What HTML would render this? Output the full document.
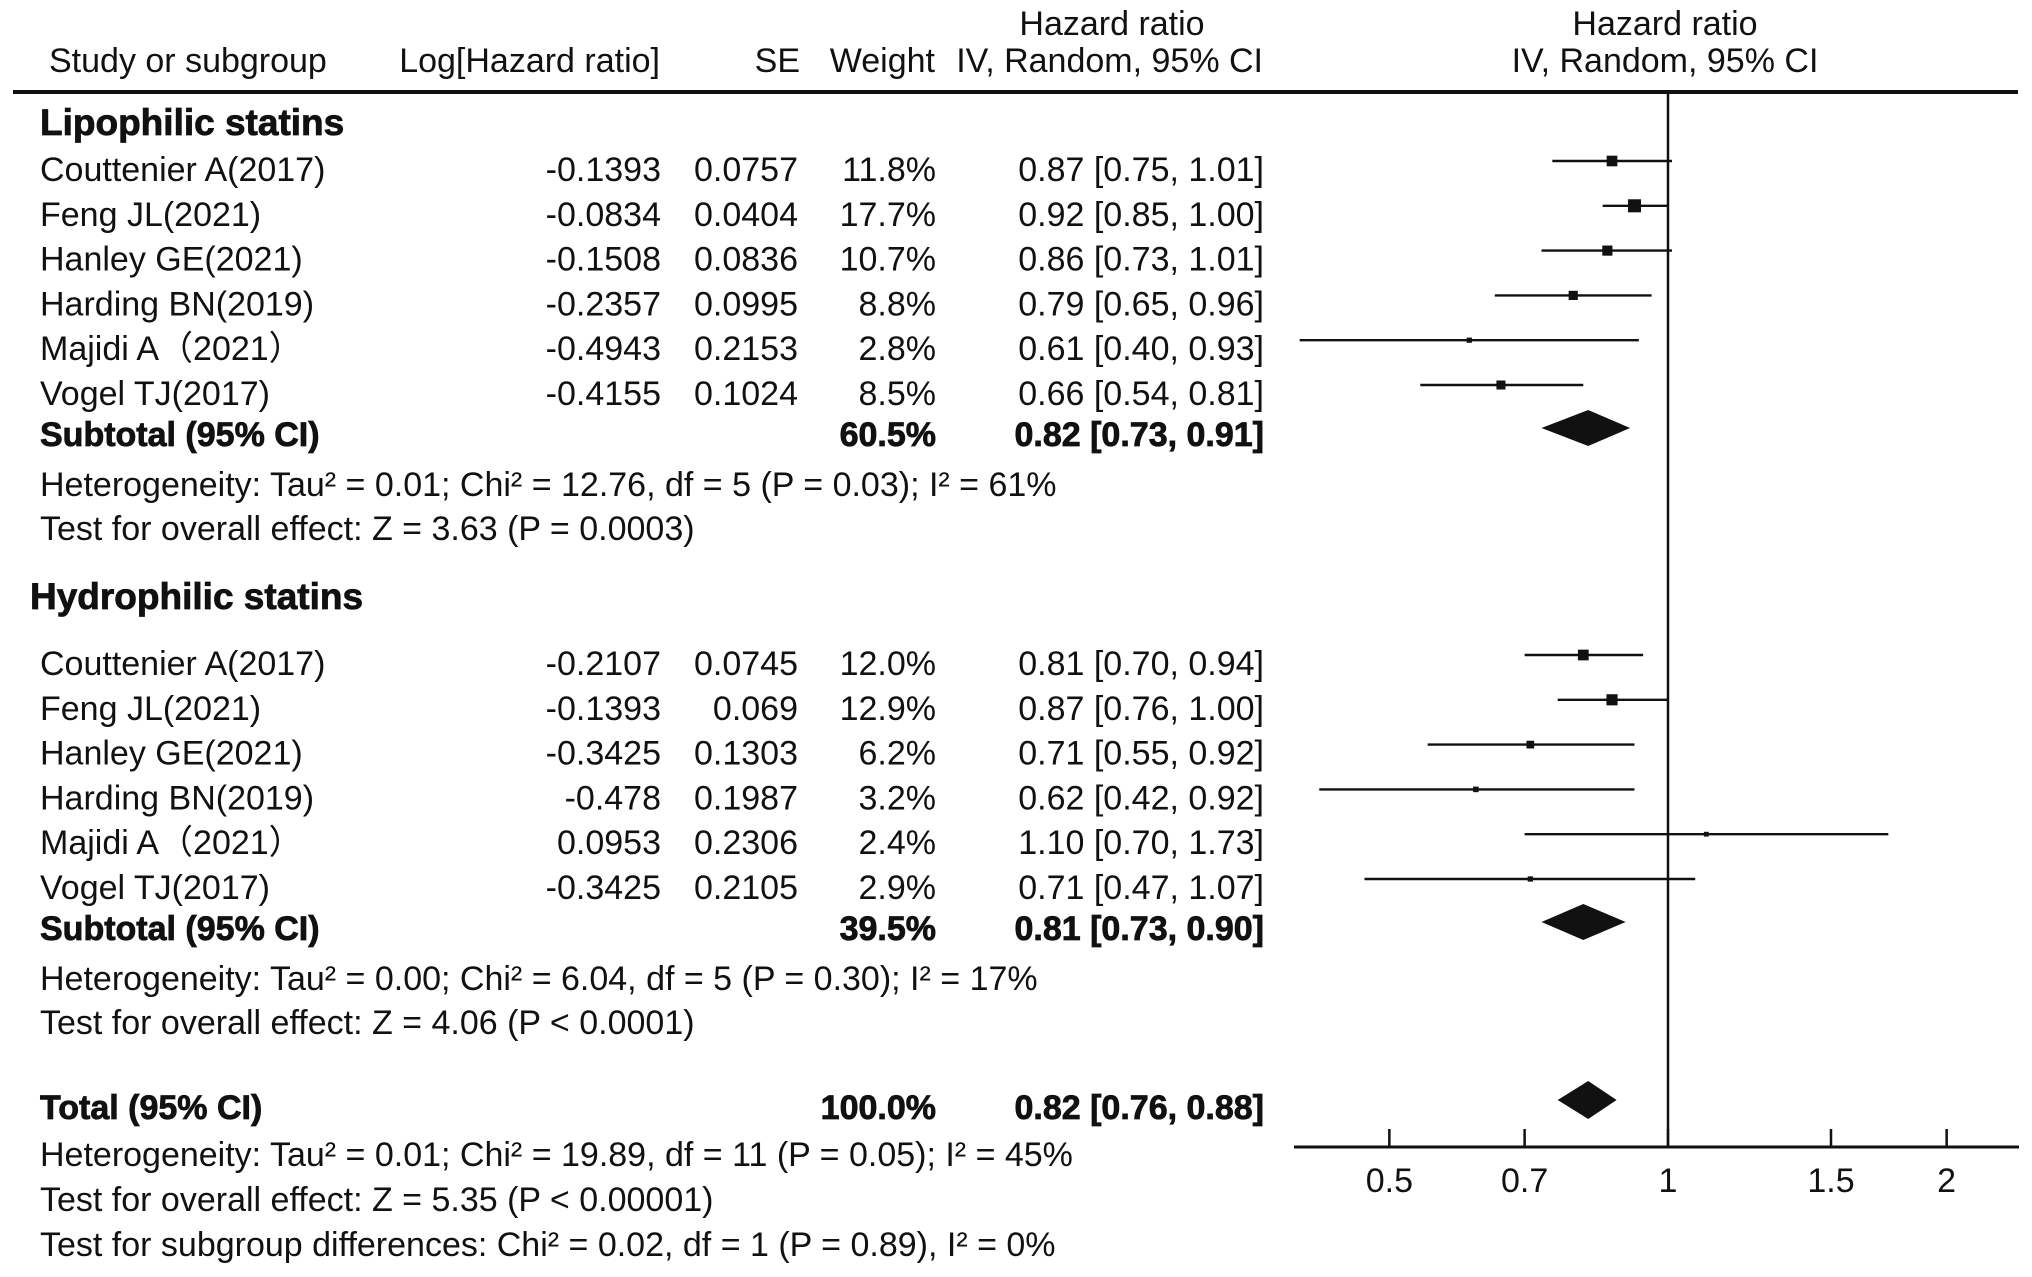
<!DOCTYPE html>
<html><head><meta charset="utf-8"><style>
body{margin:0;background:#fff}
svg{display:block;font-family:"Liberation Sans",Arial,sans-serif}
</style></head><body>
<svg id="plot" width="2032" height="1277" viewBox="0 0 2032 1277" xmlns="http://www.w3.org/2000/svg"></svg>
<script>
const studies=["Couttenier A(2017)","Feng JL(2021)","Hanley GE(2021)","Harding BN(2019)","Majidi A\uFF082021\uFF09","Vogel TJ(2017)"];
const lipoLog=["-0.1393","-0.0834","-0.1508","-0.2357","-0.4943","-0.4155"];
const lipoSE=["0.0757","0.0404","0.0836","0.0995","0.2153","0.1024"];
const lipoW=[11.8,17.7,10.7,8.8,2.8,8.5];
const lipoHR=[0.87,0.92,0.86,0.79,0.61,0.66];
const lipoLo=[0.75,0.85,0.73,0.65,0.40,0.54];
const lipoHi=[1.01,1.00,1.01,0.96,0.93,0.81];
const hydroLog=["-0.2107","-0.1393","-0.3425","-0.478","0.0953","-0.3425"];
const hydroSE=["0.0745","0.069","0.1303","0.1987","0.2306","0.2105"];
const hydroW=[12.0,12.9,6.2,3.2,2.4,2.9];
const hydroHR=[0.81,0.87,0.71,0.62,1.10,0.71];
const hydroLo=[0.70,0.76,0.55,0.42,0.70,0.47];
const hydroHi=[0.94,1.00,0.92,0.92,1.73,1.07];
const subtotals=[[0.82,0.73,0.91,"60.5%"],[0.81,0.73,0.90,"39.5%"]];
const total=[0.82,0.76,0.88,"100.0%"];
const ticks=[0.5,0.7,1,1.5,2];

const NS="http://www.w3.org/2000/svg";
const svg=document.getElementById('plot');
const X=v=>1668+402*Math.log(v);
const XMIN=1294,XMAX=2019,AXY=1147;
function el(tag,attrs,name,txt){const e=document.createElementNS(NS,tag);for(const k in attrs)e.setAttribute(k,attrs[k]);


if(txt!==undefined)e.textContent=txt;svg.appendChild(e);return e;}
function txt(x,y,s,name,anchor,bold,size){const a={x:x,y:y,'font-size':size||34,'text-anchor':anchor||'start','font-weight':bold?'bold':'normal',fill:'#111'};
 if(bold){a.stroke='#111';a['stroke-width']=0.8;}
 return el('text',a,name,s);}
const fmt=v=>v.toFixed(2);
txt(1112,35,"Hazard ratio","header-hr-1","middle");
txt(49,72,"Study or subgroup","header-study");
txt(660,72,"Log[Hazard ratio]","header-loghr","end");
txt(800,72,"SE","header-se","end");
txt(935,72,"Weight","header-weight","end");
txt(1263,72,"IV, Random, 95% CI","header-hr-2","end");
txt(1665,35,"Hazard ratio","header-plot-1","middle");
txt(1665,72,"IV, Random, 95% CI","header-plot-2","middle");
el('rect',{x:13,y:90,width:2005,height:4,fill:'#111'},'header-rule');
el('line',{x1:X(1),y1:93,x2:X(1),y2:AXY,stroke:'#111','stroke-width':2.5},'null-line');
function group(title,ty,rows0,logs,ses,ws,hr,lo,hi,sub,subY,het,test){
 txt(title[1],ty,title[0],'group-title',"start",true,37);
 studies.forEach((s,i)=>{const y=rows0+i*44.8;const b=y-20;
  txt(40,y,s,'study-name');txt(661,y,logs[i],'log-hr',"end");txt(798,y,ses[i],'se',"end");
  txt(936,y,ws[i].toFixed(1)+"%",'weight',"end");
  txt(1264,y,fmt(hr[i])+" ["+fmt(lo[i])+", "+fmt(hi[i])+"]",'hr-ci',"end");
  el('line',{x1:Math.max(XMIN,X(lo[i])),y1:b,x2:Math.min(XMAX,X(hi[i])),y2:b,stroke:'#111','stroke-width':2.4},'ci-line');
  const sz=3.1*Math.sqrt(ws[i]);
  el('rect',{x:X(hr[i])-sz/2,y:b-sz/2,width:sz,height:sz,fill:'#111'},'study-square');
 });
 txt(40,subY,"Subtotal (95% CI)",'subtotal-label',"start",true);
 txt(936,subY,sub[3],'subtotal-weight',"end",true);
 txt(1264,subY,fmt(sub[0])+" ["+fmt(sub[1])+", "+fmt(sub[2])+"]",'subtotal-ci',"end",true);
 const b=subY-18;
 el('polygon',{points:`${X(sub[1])},${b} ${X(sub[0])},${b-18} ${X(sub[2])},${b} ${X(sub[0])},${b+18}`,fill:'#111'},'subtotal-diamond');
 txt(40,subY+50,het,'heterogeneity');txt(40,subY+94,test,'overall-effect');
}
group(["Lipophilic statins",40],135,181,lipoLog,lipoSE,lipoW,lipoHR,lipoLo,lipoHi,subtotals[0],446,
 "Heterogeneity: Tau\u00B2 = 0.01; Chi\u00B2 = 12.76, df = 5 (P = 0.03); I\u00B2 = 61%","Test for overall effect: Z = 3.63 (P = 0.0003)");
group(["Hydrophilic statins",30],609,675,hydroLog,hydroSE,hydroW,hydroHR,hydroLo,hydroHi,subtotals[1],940,
 "Heterogeneity: Tau\u00B2 = 0.00; Chi\u00B2 = 6.04, df = 5 (P = 0.30); I\u00B2 = 17%","Test for overall effect: Z = 4.06 (P < 0.0001)");
txt(40,1119,"Total (95% CI)",'total-label',"start",true);
txt(936,1119,total[3],'total-weight',"end",true);
txt(1264,1119,fmt(total[0])+" ["+fmt(total[1])+", "+fmt(total[2])+"]",'total-ci',"end",true);
el('polygon',{points:`${X(total[1])},1100 ${X(total[0])},1081 ${X(total[2])},1100 ${X(total[0])},1119`,fill:'#111'},'total-diamond');
txt(40,1166,"Heterogeneity: Tau\u00B2 = 0.01; Chi\u00B2 = 19.89, df = 11 (P = 0.05); I\u00B2 = 45%",'total-heterogeneity');
txt(40,1211,"Test for overall effect: Z = 5.35 (P < 0.00001)",'total-overall-effect');
txt(40,1256,"Test for subgroup differences: Chi\u00B2 = 0.02, df = 1 (P = 0.89), I\u00B2 = 0%",'subgroup-differences');
el('line',{x1:XMIN,y1:AXY,x2:XMAX,y2:AXY,stroke:'#111','stroke-width':3},'x-axis');
ticks.forEach(t=>{el('line',{x1:X(t),y1:AXY-18,x2:X(t),y2:AXY+1,stroke:'#111','stroke-width':2.5},'x-tick');
 txt(X(t),1192,String(t),'x-tick-label',"middle");});
</script>
</body></html>
